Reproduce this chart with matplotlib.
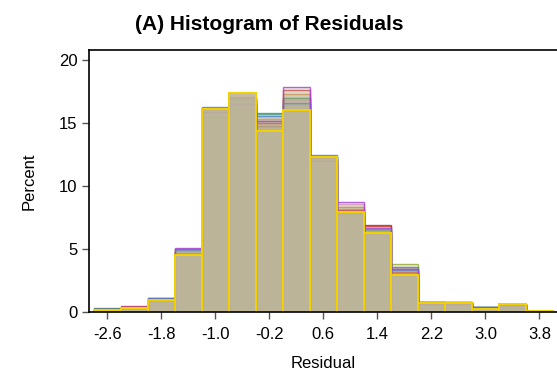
import numpy as np
import matplotlib.pyplot as plt

# bin midpoints of the residual histogram (width 0.4)
bin_mids = [-2.6, -2.2, -1.8, -1.4, -1.0, -0.6, -0.2, 0.2, 0.6, 1.0,
            1.4, 1.8, 2.2, 2.6, 3.0, 3.4, 3.8]
tick_vals = [-2.6, -1.8, -1.0, -0.2, 0.6, 1.4, 2.2, 3.0, 3.8]

# percent per bin for each overlaid replicate (back to front)
pct_olive = [0.2, 0.3, 1.0, 4.6, 15.4, 16.6, 15.3, 16.5, 12.4, 8.2, 6.3, 3.8, 0.75, 0.75, 0.35, 0.6, 0.1]
pct_pink = [0.2, 0.35, 0.9, 4.7, 15.3, 16.3, 14.7, 16.8, 11.6, 8.6, 6.0, 3.5, 0.65, 0.7, 0.3, 0.6, 0.1]
pct_teal = [0.25, 0.3, 1.0, 4.6, 15.6, 16.4, 15.7, 16.5, 12.3, 7.7, 6.2, 3.3, 0.7, 0.7, 0.35, 0.55, 0.1]
pct_brown = [0.2, 0.3, 1.0, 5.0, 15.8, 17.0, 14.8, 17.0, 12.1, 8.0, 6.9, 3.1, 0.75, 0.7, 0.3, 0.6, 0.1]
pct_orange = [0.15, 0.4, 1.1, 4.8, 16.0, 16.9, 15.0, 17.3, 11.9, 8.3, 6.4, 3.0, 0.7, 0.75, 0.3, 0.6, 0.1]
pct_green = [0.3, 0.3, 1.0, 4.7, 15.5, 16.6, 15.8, 17.0, 12.4, 8.0, 6.5, 3.6, 0.8, 0.7, 0.35, 0.6, 0.1]
pct_red = [0.2, 0.45, 1.1, 5.0, 16.2, 17.1, 15.0, 17.6, 12.2, 8.1, 6.8, 3.2, 0.7, 0.8, 0.3, 0.55, 0.1]
pct_blue = [0.2, 0.35, 1.1, 4.9, 16.3, 16.8, 15.6, 16.6, 12.5, 7.8, 6.6, 3.3, 0.75, 0.7, 0.35, 0.55, 0.1]
pct_purple = [0.2, 0.35, 0.95, 5.1, 15.9, 16.5, 15.2, 17.9, 12.0, 8.7, 6.7, 3.4, 0.65, 0.65, 0.4, 0.55, 0.05]
pct_yellow = [0.15, 0.3, 0.95, 4.5, 16.1, 17.4, 14.4, 16.0, 12.3, 7.9, 6.3, 2.9, 0.7, 0.7, 0.2, 0.6, 0.1]

series = [
    (pct_olive, '#9aaa30'),
    (pct_pink, '#e08ac8'),
    (pct_teal, '#2aa0a0'),
    (pct_brown, '#7a4020'),
    (pct_orange, '#e08020'),
    (pct_green, '#30a050'),
    (pct_red, '#d03030'),
    (pct_blue, '#4a7fd0'),
    (pct_purple, '#a040e0'),
]

plt.rcParams['font.family'] = ['Liberation Sans', 'DejaVu Sans']

fig = plt.figure(figsize=(5.57, 3.85), dpi=100)
ax = fig.add_axes([0.16, 0.19, 0.84, 0.68])

for vals, col in series:
    ax.bar(bin_mids, vals, width=0.4, facecolor='#b9af94', alpha=0.28,
           edgecolor='none')
    ax.bar(bin_mids, vals, width=0.4, facecolor='none', edgecolor=col,
           linewidth=1.0, alpha=0.8)

ax.bar(bin_mids, pct_yellow, width=0.4, facecolor='#bdb59a', alpha=0.9,
       edgecolor='none')
ax.bar(bin_mids, pct_yellow, width=0.4, facecolor='none', edgecolor='#f2d000',
       linewidth=1.4)

ax.set_xlim(-2.866, 4.06)
ax.set_ylim(0, 20.8)
ax.set_xticks(tick_vals)
ax.set_xticklabels([f'{v:.1f}' for v in tick_vals])
ax.set_yticks([0, 5, 10, 15, 20])
ax.spines['right'].set_visible(False)
ax.tick_params(direction='out', length=5, width=1, labelsize=12, color='#555555')
ax.tick_params(axis='x', pad=6)
for s in ['left', 'bottom', 'top']:
    ax.spines[s].set_linewidth(1.2)

ax.set_xlabel('Residual', fontsize=12, labelpad=10)
ax.set_ylabel('Percent', fontsize=12, labelpad=16)
fig.text(269 / 557, 1 - 25 / 385, '(A) Histogram of Residuals', fontsize=15,
         fontweight='bold', ha='center', va='center')

fig.savefig('out.png', dpi=100)
